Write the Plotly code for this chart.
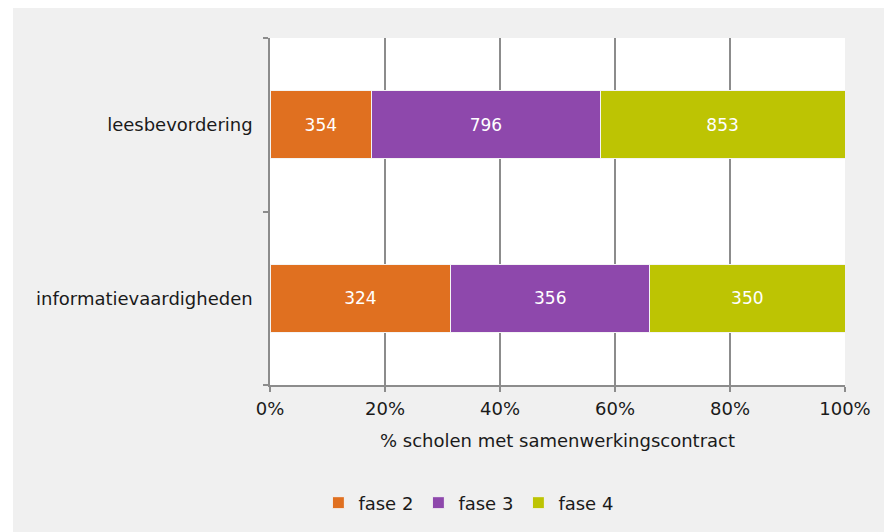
import plotly.graph_objects as go

categories = ['informatievaardigheden', 'leesbevordering']
fase2 = [324, 354]
fase3 = [356, 796]
fase4 = [350, 853]
series_names = ['fase 2', 'fase 3', 'fase 4']
colors = ['#E07020', '#8E48AC', '#BDC403']

font = 'DejaVu Sans'

fig = go.Figure()
for name, vals, col in zip(series_names, [fase2, fase3, fase4], colors):
    fig.add_trace(go.Bar(
        y=categories, x=vals, name=name, orientation='h',
        marker=dict(color=col, line=dict(color='#f4f4f4', width=1)),
        text=[str(v) for v in vals], textposition='inside',
        insidetextanchor='middle', constraintext='none',
        textfont=dict(color='white', size=17, family=font),
    ))

# plot area 262..837 x 30..377 in figure pixels
fig.update_layout(
    width=892, height=532,
    barmode='stack', barnorm='percent', bargap=0.61,
    paper_bgcolor='#f0f0f0', plot_bgcolor='white',
    margin=dict(l=262, r=55, t=30, b=155),
    font=dict(family=font, size=18, color='#1a1a1a'),
    showlegend=True,
    legend=dict(orientation='h', x=0.345, xanchor='center', y=-0.34, yanchor='middle',
                bgcolor='rgba(0,0,0,0)', font=dict(size=18), traceorder='normal',
                itemwidth=30),
    xaxis=dict(range=[0, 100], dtick=20, ticksuffix='%', showgrid=True,
               gridcolor='#8c8c8c', gridwidth=1.5, zeroline=False,
               showline=True, linecolor='#8c8c8c', linewidth=1.5,
               ticks='outside', ticklen=5, tickcolor='#8c8c8c', tickwidth=1.5,
               tickfont=dict(size=18), ticklabelstandoff=2,
               title=dict(text='% scholen met samenwerkingscontract', standoff=16,
                          font=dict(size=18)),
               fixedrange=True),
    yaxis=dict(showgrid=False, showline=True, linecolor='#8c8c8c', linewidth=1.5,
               ticks='outside', tickson='boundaries', ticklen=5,
               tickcolor='#8c8c8c', tickwidth=1.5, ticklabelstandoff=12,
               tickfont=dict(size=18), fixedrange=True),
    shapes=[
        dict(type='rect', xref='paper', yref='paper', x0=-0.6, x1=(5 - 262) / 575,
             y0=-0.6, y1=1.3, fillcolor='white', line=dict(width=0),
             layer='above'),
    ],
)

fig.write_html('out.html')
